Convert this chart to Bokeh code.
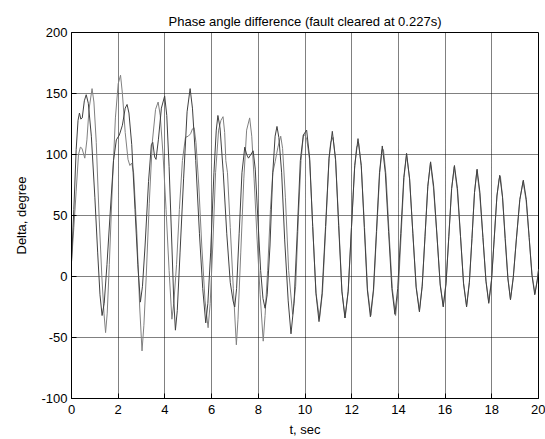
from bokeh.plotting import figure
from bokeh.models import FixedTicker
from bokeh.embed import file_html
from bokeh.resources import INLINE

# ---- data (time in s, angle in degrees) ----
t_a = [0.0, 0.1, 0.2, 0.28, 0.34, 0.4, 0.46, 0.55, 0.63, 0.72, 0.85, 1.0, 1.12, 1.22, 1.31, 1.4,
       1.52, 1.65, 1.8, 1.92, 2.05, 2.18, 2.3, 2.38, 2.46, 2.58, 2.72, 2.84, 2.95, 3.04, 3.15, 3.3,
       3.42, 3.48, 3.56, 3.62, 3.72, 3.85, 3.99, 4.08, 4.18, 4.3, 4.38, 4.45, 4.53, 4.65, 4.8,
       4.95, 5.08, 5.18, 5.32, 5.48, 5.62, 5.75, 5.84, 5.96, 6.1, 6.2, 6.27, 6.36, 6.5, 6.65,
       6.8, 6.92, 6.99, 7.07, 7.18, 7.3, 7.42, 7.5, 7.58, 7.68, 7.78, 7.87, 7.98, 8.1, 8.2,
       8.29, 8.38, 8.5, 8.62, 8.72, 8.8, 8.88, 9.0, 9.13, 9.28, 9.4, 9.53, 9.67, 9.8, 9.93,
       10.07, 10.2, 10.33, 10.47, 10.6, 10.73, 10.88, 11.03, 11.17, 11.31, 11.44, 11.58, 11.71,
       11.85, 11.99, 12.13, 12.27, 12.41, 12.54, 12.67, 12.8, 12.93, 13.06, 13.19, 13.31, 13.44,
       13.58, 13.72, 13.85, 13.97, 14.1, 14.23, 14.35, 14.48, 14.62, 14.76, 14.9, 15.02, 15.14,
       15.26, 15.38, 15.51, 15.65, 15.79, 15.92, 16.04, 16.16, 16.28, 16.4, 16.53, 16.66, 16.79,
       16.92, 17.04, 17.15, 17.26, 17.37, 17.49, 17.62, 17.75, 17.87, 17.99, 18.1, 18.22, 18.34,
       18.46, 18.57, 18.69, 18.8, 18.92, 19.05, 19.2, 19.35, 19.48, 19.6, 19.72, 19.84, 19.95, 20.0]
delta_a = [12, 55, 104, 128, 134, 129, 130, 144, 149, 142, 115, 65, 20, -15, -32, -22,
           10, 50, 95, 112, 116, 124, 138, 141, 134, 108, 55, 10, -21, -8, 25, 78,
           108, 110, 98, 96, 112, 138, 148, 132, 90, 25, -20, -44, -28, 20, 80,
           135, 154, 138, 95, 35, -10, -38, -22, 20, 85, 120, 132, 122, 85, 35,
           -5, -20, -25, -10, 35, 85, 106, 100, 97, 100, 103, 88, 48, 5, -18,
           -26, -15, 25, 85, 115, 123, 114, 85, 30, -20, -47, -22, 37, 95, 116,
           120, 97, 41, -14, -37, -14, 41, 97, 119, 96, 42, -12, -34,
           -12, 40, 91, 113, 91, 40, -11, -33, -11, 37, 85, 107, 85,
           37, -10, -31, -10, 35, 81, 101, 80, 35, -9, -29, -8, 33,
           74, 94, 74, 34, -7, -25, -6, 33, 72, 91, 72, 33, -6,
           -25, -5, 31, 69, 88, 69, 32, -4, -22, -3, 30, 66, 83,
           65, 31, -2, -19, -1, 30, 63, 79, 63, 32, 1, -15, -3, 5]

t_b = [0.0, 0.1, 0.2, 0.3, 0.38, 0.45, 0.57, 0.66, 0.75, 0.88, 0.96, 1.06, 1.18, 1.3, 1.39, 1.46,
       1.53, 1.62, 1.75, 1.88, 2.0, 2.1, 2.18, 2.3, 2.42, 2.5, 2.58, 2.66, 2.8, 2.92, 3.02, 3.1,
       3.2, 3.33, 3.46, 3.6, 3.71, 3.8, 3.92, 4.05, 4.18, 4.3, 4.38, 4.5, 4.62, 4.75, 4.88,
       5.0, 5.1, 5.18, 5.25, 5.33, 5.45, 5.58, 5.72, 5.85, 5.94, 6.05, 6.17, 6.3, 6.4, 6.49,
       6.56, 6.61, 6.68, 6.8, 6.93, 7.06, 7.13, 7.25, 7.38, 7.5, 7.63, 7.72, 7.82, 7.95, 8.08,
       8.21, 8.29, 8.4, 8.52, 8.62, 8.72, 8.84, 8.96, 9.04, 9.16, 9.3, 9.47, 9.6, 9.72, 9.83,
       9.93, 10.0, 10.08, 10.2, 10.33, 10.47, 10.62, 10.75, 10.89, 11.03, 11.1, 11.2, 11.31,
       11.45, 11.58, 11.72, 11.85, 11.99, 12.12, 12.21, 12.3, 12.41, 12.55, 12.68, 12.82, 12.94,
       13.07, 13.2, 13.3, 13.36, 13.47, 13.6, 13.74, 13.88, 14.0, 14.12, 14.24, 14.35, 14.48,
       14.62, 14.76, 14.9, 15.02, 15.14, 15.26, 15.37, 15.5, 15.65, 15.79, 15.92, 16.04, 16.16,
       16.28, 16.39, 16.52, 16.66, 16.79, 16.92, 17.04, 17.15, 17.26, 17.36, 17.48, 17.62, 17.75,
       17.87, 17.99, 18.1, 18.22, 18.31, 18.37, 18.46, 18.58, 18.69, 18.8, 18.92, 19.05, 19.2,
       19.34, 19.47, 19.6, 19.72, 19.85, 19.95, 20.0]
delta_b = [12, 40, 70, 100, 106, 105, 97, 112, 137, 154, 143, 110, 50, 0, -30, -46,
           -30, 10, 75, 130, 158, 165, 150, 118, 96, 91, 93, 85, 35, -25, -61, -40,
           0, 60, 110, 137, 143, 132, 100, 55, 5, -35, -22, 10, 55, 95, 114,
           115, 117, 121, 122, 110, 75, 25, -20, -42, -22, 25, 85, 120, 128, 131,
           118, 95, 85, 40, -10, -56, -35, 20, 80, 120, 130, 115, 80, 30, -15,
           -53, -32, 5, 55, 85, 94, 106, 115, 105, 65, 5, -31, -8, 50, 95,
           116, 116, 112, 95, 41, -13, -35, -13, 41, 97, 110, 114, 95,
           42, -12, -34, -12, 40, 88, 106, 109, 90, 40, -11, -32, -11,
           37, 85, 104, 104, 83, 36, -10, -32, -10, 35, 81, 100, 80,
           35, -8, -28, -7, 33, 74, 93, 73, 34, -6, -24, -5, 33,
           72, 90, 71, 33, -5, -24, -4, 31, 69, 87, 68, 32, -3,
           -21, -2, 30, 66, 80, 82, 65, 31, -1, -19, 0, 30, 63,
           78, 62, 32, 2, -14, -2, 6]

x_ticks = [0, 2, 4, 6, 8, 10, 12, 14, 16, 18, 20]
y_ticks = [-100, -50, 0, 50, 100, 150, 200]
y_tick_labels = ["-100", "-50", "0", "50", "100", "150", "200"]

FONT = "Liberation Sans"

p = figure(width=545, height=439, x_range=(0, 20), y_range=(-100, 200),
           output_backend="svg", toolbar_location=None,
           title="Phase angle difference (fault cleared at 0.227s)",
           min_border_left=71, min_border_right=7, min_border_top=32, min_border_bottom=38)

p.line(t_b, delta_b, line_color="#808080", line_width=1)
p.line(t_a, delta_a, line_color="#404040", line_width=1)

p.title.align = "center"
p.title.text_font = FONT
p.title.text_font_size = "13px"
p.title.text_font_style = "normal"
p.title.text_color = "black"
p.title.standoff = 8

p.xaxis.ticker = FixedTicker(ticks=x_ticks)
p.yaxis.ticker = FixedTicker(ticks=y_ticks)
p.yaxis.major_label_overrides = {v: s for v, s in zip(y_ticks, y_tick_labels)}
p.xaxis.axis_label = "t, sec"
p.yaxis.axis_label = "Delta, degree"
for ax in (p.xaxis, p.yaxis):
    ax.axis_label_text_font = FONT
    ax.axis_label_text_font_size = "13px"
    ax.axis_label_text_font_style = "normal"
    ax.axis_label_text_color = "black"
    ax.major_label_text_font = FONT
    ax.major_label_text_font_size = "13px"
    ax.major_label_text_color = "black"
    ax.major_tick_in = 5
    ax.major_tick_out = 0
    ax.minor_tick_line_color = None
    ax.axis_line_color = "black"
    ax.major_tick_line_color = "black"
p.xaxis.major_label_standoff = 6
p.yaxis.major_label_standoff = 4
p.xaxis.axis_label_standoff = 5
p.yaxis.axis_label_standoff = 9

p.grid.grid_line_color = "black"
p.grid.grid_line_dash = "1 1"
p.grid.grid_line_alpha = 1.0
p.outline_line_color = "black"
p.outline_line_width = 1
p.background_fill_color = "white"
p.border_fill_color = "white"

open("out.html", "w").write(file_html(p, INLINE))
